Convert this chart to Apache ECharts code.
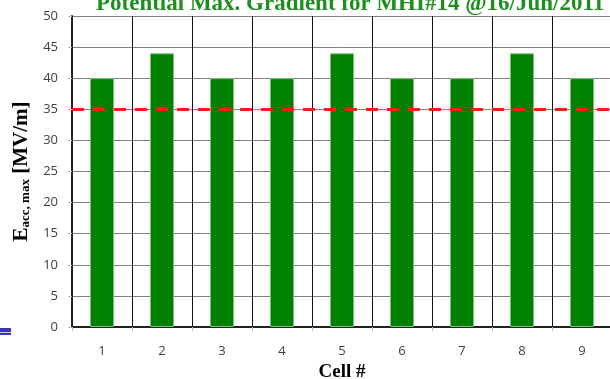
<!DOCTYPE html>
<html>
<head>
<meta charset="utf-8">
<script src="https://cdn.jsdelivr.net/npm/echarts@6/dist/echarts.min.js"></script>
<style>
  html, body { margin: 0; padding: 0; background: #fff; }
  #chart { width: 610px; height: 379px; }
</style>
</head>
<body>
<div id="chart"></div>
<script>
// 데이터
const cells = ['1', '2', '3', '4', '5', '6', '7', '8', '9'];
const gradient = [40, 44, 40, 40, 44, 40, 40, 44, 40];
const limitValue = 35;

const myChart = echarts.init(document.getElementById('chart'));

const option = {
  animation: false,
  title: {
    text: 'Potential Max. Gradient for MHI#14 @16/Jun/2011',
    left: 91,
    top: -12,
    textStyle: {
      fontFamily: 'Liberation Serif',
      fontWeight: 'bold',
      fontSize: 23,
      color: '#1e8e1e',
    },
  },
  grid: { left: 72, right: -2, top: 16, bottom: 52, outerBoundsMode: 'none' },
  xAxis: {
    type: 'category',
    data: cells,
    name: 'Cell #',
    nameLocation: 'middle',
    nameGap: 33,
    nameTextStyle: {
      fontFamily: 'Liberation Serif',
      fontWeight: 'bold',
      fontSize: 19,
      color: '#000',
    },
    axisLine: { lineStyle: { color: '#222', width: 2 } },
    axisTick: { show: true, length: 4, lineStyle: { color: '#bbb' } },
    axisLabel: { color: '#404040', fontSize: 13, fontFamily: 'Open Sans', margin: 18 },
    splitLine: { show: true, lineStyle: { color: '#111', width: 1 } },
  },
  yAxis: {
    type: 'value',
    min: 0,
    max: 50,
    interval: 5,
    name: '{b|E}{s|acc, max}{b| [MV/m]}',
    nameLocation: 'middle',
    nameGap: 37,
    nameTextStyle: {
      rich: {
        b: { fontFamily: 'Liberation Serif', fontWeight: 'bold', fontSize: 21, color: '#000' },
        s: { fontFamily: 'Liberation Serif', fontWeight: 'bold', fontSize: 13, color: '#000', padding: [9, 0, 0, 0] },
      },
    },
    axisLine: { show: true, lineStyle: { color: '#222', width: 2 } },
    axisTick: { show: true, length: 4, lineStyle: { color: '#bbb' } },
    axisLabel: { color: '#404040', fontSize: 13, fontFamily: 'Open Sans', margin: 14 },
    splitLine: { lineStyle: { color: '#808080', width: 1 } },
  },
  series: [
    {
      type: 'bar',
      data: gradient,
      barWidth: '40%',
      itemStyle: { color: '#008000', borderColor: '#7cc47c', borderWidth: 1 },
      markLine: {
        symbol: 'none',
        silent: true,
        label: { show: false },
        lineStyle: { color: '#ff1a1a', type: [12, 9], width: 3 },
        data: [{ yAxis: limitValue }],
      },
    },
  ],
  graphic: [
    { type: 'rect', left: 0, top: 328, shape: { width: 11, height: 7 }, style: { fill: '#3a3aa6' } },
    { type: 'rect', left: 0, top: 332, shape: { width: 11, height: 1 }, style: { fill: '#c8c8ee' } },
  ],
};

myChart.setOption(option);
</script>
</body>
</html>
